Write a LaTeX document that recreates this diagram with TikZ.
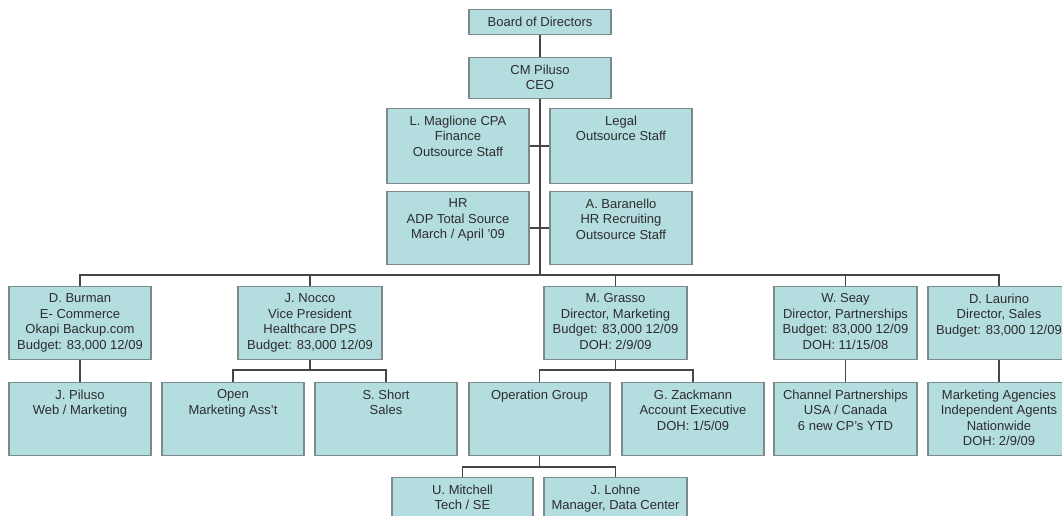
\documentclass[tikz,border=0pt]{standalone}
\usepackage{fontspec}
\setmainfont{Liberation Sans}
\definecolor{boxfill}{RGB}{180,221,224}
\definecolor{boxline}{RGB}{125,138,140}
\definecolor{wire}{RGB}{70,70,70}
\definecolor{txtcol}{RGB}{45,45,45}
\tikzset{
  box/.style={draw=boxline, fill=boxfill, line width=1.1pt, inner sep=0pt},
  txt/.style={align=center, inner sep=0pt, text=txtcol,
    font=\fontsize{13}{15.5}\selectfont},
  wirel/.style={draw=wire, line width=1.1pt}
}
\newcommand\obox[6]{%
  \node[box, minimum width=#4pt, minimum height=#5pt, anchor=north] (#1) at (#2,#3) {};
  \node[txt, anchor=north] (#1t) at ([yshift=-7.5pt]#1.north) {#6};
}
\begin{document}
\begin{tikzpicture}[x=1pt,y=-1pt]
\clip (0,0) rectangle (1062,516);
\fill[white] (0,0) rectangle (1062,516);
\coordinate (busL) at (80,275);
\coordinate (busR) at (999,275);
\coordinate (trunk) at (540,275);
\obox{bod}{540}{9}{142}{25}{Board of Directors}
\obox{ceo}{540}{57}{142}{41}{CM Piluso\\CEO}
\obox{fin}{458}{108}{142}{75}{L. Maglione CPA\\Finance\\Outsource Staff}
\obox{legal}{621}{108}{142}{75}{Legal\\Outsource Staff}
\obox{hr}{458}{191}{142}{73}{HR\\ADP Total Source\\March / April '09}
\obox{bar}{621}{191}{142}{73}{A. Baranello\\HR Recruiting\\Outsource Staff}
\obox{burman}{80}{286}{142}{73}{D. Burman\\E- Commerce\\Okapi Backup.com\\Budget: 83,000 12/09}
\obox{nocco}{310}{286}{144}{73}{J. Nocco\\Vice President\\Healthcare DPS\\Budget: 83,000 12/09}
\obox{grasso}{615.5}{286}{143}{73}{M. Grasso\\Director, Marketing\\Budget: 83,000 12/09\\DOH: 2/9/09}
\obox{seay}{845.5}{286}{143}{73}{W. Seay\\Director, Partnerships\\Budget: 83,000 12/09\\DOH: 11/15/08}
\obox{laurino}{999}{286}{142}{73}{D. Laurino\\Director, Sales\\Budget: 83,000 12/09}
\obox{piluso}{80}{382}{142}{73}{J. Piluso\\Web / Marketing}
\obox{open}{233}{382}{142}{73}{Open\\Marketing Ass't}
\obox{short}{386}{382}{142}{73}{S. Short\\Sales}
\obox{opg}{539.5}{382}{141}{73}{Operation Group}
\obox{zack}{693}{382}{142}{73}{G. Zackmann\\Account Executive\\DOH: 1/5/09}
\obox{chan}{845.5}{382}{143}{73}{Channel Partnerships\\USA / Canada\\6 new CP's YTD}
\obox{agen}{999}{382}{142}{73}{Marketing Agencies\\Independent Agents\\Nationwide\\DOH: 2/9/09}
\obox{mitch}{462.5}{477}{141}{73}{U. Mitchell\\Tech / SE}
\obox{lohne}{615.5}{477}{143}{73}{J. Lohne\\Manager, Data Center}
% wires
\draw[wirel] (bod.south) -- (ceo.north);
\draw[wirel] (ceo.south) -- (trunk);
\draw[wirel] (fin.east |- 0,146) -- (legal.west |- 0,146);
\draw[wirel] (hr.east |- 0,228) -- (bar.west |- 0,228);
\draw[wirel] (burman.north) -- (busL) -- (busR) -- (laurino.north);
\draw[wirel] (nocco.north) -- (nocco.north |- busL);
\draw[wirel] (grasso.north) -- (grasso.north |- busL);
\draw[wirel] (seay.north) -- (seay.north |- busL);
\draw[wirel] (burman.south) -- (piluso.north);
\draw[wirel] (seay.south) -- (chan.north);
\draw[wirel] (laurino.south) -- (agen.north);
\draw[wirel] (nocco.south) -- (nocco.south |- 0,370);
\draw[wirel] (open.north) -- (open.north |- 0,370) -- (short.north |- 0,370) -- (short.north);
\draw[wirel] (grasso.south) -- (grasso.south |- 0,370);
\draw[wirel] (opg.north) -- (opg.north |- 0,370) -- (zack.north |- 0,370) -- (zack.north);
\draw[wirel] (opg.south) -- (opg.south |- 0,467);
\draw[wirel] (mitch.north) -- (mitch.north |- 0,467) -- (lohne.north |- 0,467) -- (lohne.north);
\end{tikzpicture}
\end{document}
